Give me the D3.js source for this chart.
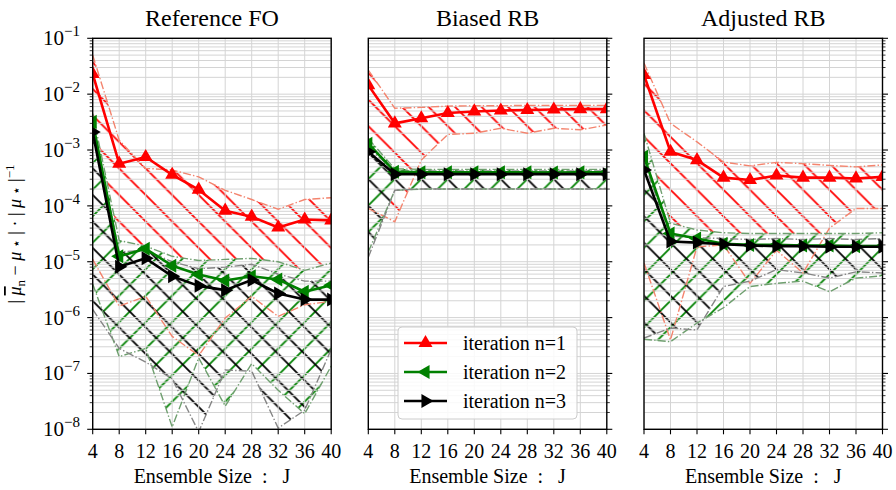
<!DOCTYPE html>
<html lang="en">
<head>
<meta charset="UTF-8">
<title>Ensemble size convergence</title>
<style>
  body { margin: 0; background: #fff; }
  svg, text { font-family: "Liberation Serif", "Times New Roman", serif; fill: #000; }
</style>
</head>
<body>
<svg width="896" height="490" font-family="Liberation Serif, serif"></svg>
<script src="https://d3js.org/d3.v7.min.js"></script>
<script>
// ensemble sizes J
const ensembleSizes = [4, 8, 12, 16, 20, 24, 28, 32, 36, 40];
const panelTitles = ["Reference FO", "Biased RB", "Adjusted RB"];
const legendLabels = ["iteration n=1", "iteration n=2", "iteration n=3"];
const yExponents = [-8, -7, -6, -5, -4, -3, -2, -1];

// Reference FO
const foMean1  = [2.3e-2, 5.7e-4, 7.5e-4, 3.6e-4, 1.95e-4, 8.2e-5, 6.4e-5, 4.1e-5, 5.7e-5, 5.5e-5];
const foUpper1 = [5.0e-2, 1.5e-3, 4.7e-4, 4.4e-4, 3.3e-4, 1.9e-4, 1.3e-4, 8.7e-5, 1.3e-4, 1.4e-4];
const foLower1 = [1.1e-5, 1.6e-6, 2.4e-6, 4.6e-7, 2.1e-7, 9.8e-7, 2.4e-6, 1.05e-6, 1.7e-6, 1.95e-6];
const foMean2  = [3.2e-3, 1.25e-5, 1.7e-5, 8.5e-6, 5.9e-6, 4.6e-6, 5.5e-6, 4.8e-6, 2.9e-6, 3.8e-6];
const foUpper2 = [4.5e-3, 2.4e-5, 1.9e-5, 1.25e-5, 1.05e-5, 1.1e-5, 1.15e-5, 1.0e-5, 7.0e-6, 9.5e-6];
const foLower2 = [4.0e-6, 2.0e-7, 2.8e-7, 1.1e-8, 1.9e-7, 2.6e-8, 1.5e-7, 5.0e-8, 1.9e-8, 1.35e-7];
const foMean3  = [2.1e-3, 8.1e-6, 1.15e-5, 5.5e-6, 3.7e-6, 3.1e-6, 4.7e-6, 2.7e-6, 2.1e-6, 2.1e-6];
const foUpper3 = [2.8e-3, 1.5e-5, 1.6e-5, 1.0e-5, 7.5e-6, 8.0e-6, 9.0e-6, 6.0e-6, 4.5e-6, 4.5e-6];
const foLower3 = [1.4e-6, 2.8e-7, 1.6e-7, 8.0e-8, 9.0e-9, 1.15e-7, 1.1e-7, 1.05e-8, 2.2e-8, 2.7e-7];

// Biased RB
const rbMean1  = [1.45e-2, 3.0e-3, 3.7e-3, 4.6e-3, 4.9e-3, 5.1e-3, 5.2e-3, 5.3e-3, 5.4e-3, 5.4e-3];
const rbUpper1 = [2.7e-2, 5.6e-3, 5.8e-3, 6.1e-3, 6.2e-3, 6.2e-3, 6.3e-3, 6.3e-3, 6.3e-3, 6.3e-3];
const rbLower1 = [9.0e-5, 5.2e-5, 6.6e-4, 1.9e-3, 2.0e-3, 2.45e-3, 2.0e-3, 2.45e-3, 2.3e-3, 2.8e-3];
const rbMean2  = [1.3e-3, 4.1e-4, 4.0e-4, 4.0e-4, 4.0e-4, 4.0e-4, 4.0e-4, 3.95e-4, 4.0e-4, 4.0e-4];
const rbUpper2 = [1.6e-3, 4.6e-4, 4.5e-4, 4.5e-4, 4.5e-4, 4.5e-4, 4.5e-4, 4.5e-4, 4.5e-4, 4.5e-4];
const rbLower2 = [1.5e-5, 1.9e-4, 2.0e-4, 2.0e-4, 2.0e-4, 2.0e-4, 2.0e-4, 2.0e-4, 2.0e-4, 2.05e-4];
const rbMean3  = [9.3e-4, 3.7e-4, 3.7e-4, 3.7e-4, 3.7e-4, 3.7e-4, 3.7e-4, 3.7e-4, 3.7e-4, 3.7e-4];
const rbUpper3 = [1.1e-3, 4.2e-4, 4.2e-4, 4.2e-4, 4.2e-4, 4.2e-4, 4.2e-4, 4.2e-4, 4.2e-4, 4.2e-4];
const rbLower3 = [1.2e-5, 1.9e-4, 2.0e-4, 2.0e-4, 2.0e-4, 2.0e-4, 2.0e-4, 2.0e-4, 2.0e-4, 2.0e-4];

// Adjusted RB
const arMean1  = [2.2e-2, 9.3e-4, 6.6e-4, 3.2e-4, 2.9e-4, 3.5e-4, 3.2e-4, 3.2e-4, 3.1e-4, 3.3e-4];
const arUpper1 = [3.6e-2, 3.0e-3, 1.4e-3, 6.1e-4, 5.2e-4, 6.0e-4, 5.7e-4, 5.3e-4, 5.0e-4, 5.4e-4];
const arLower1 = [9.5e-6, 4.0e-7, 1.85e-5, 2.0e-5, 4.1e-6, 1.6e-5, 6.3e-6, 4.0e-5, 9.0e-5, 9.0e-5];
const arMean2  = [7.6e-4, 3.2e-5, 2.6e-5, 2.1e-5, 2.0e-5, 2.0e-5, 1.95e-5, 1.95e-5, 1.9e-5, 1.9e-5];
const arUpper2 = [2.0e-3, 4.9e-5, 3.7e-5, 3.3e-5, 3.2e-5, 3.2e-5, 3.2e-5, 3.2e-5, 3.2e-5, 3.3e-5];
const arLower2 = [4.1e-7, 3.7e-7, 8.0e-7, 1.5e-6, 3.6e-6, 4.1e-6, 4.5e-6, 2.9e-6, 5.1e-6, 5.6e-6];
const arMean3  = [4.4e-4, 2.3e-5, 2.2e-5, 2.05e-5, 1.95e-5, 1.9e-5, 1.9e-5, 1.85e-5, 1.85e-5, 1.85e-5];
const arUpper3 = [6.0e-4, 2.9e-5, 2.7e-5, 2.6e-5, 2.5e-5, 2.6e-5, 2.5e-5, 2.6e-5, 2.5e-5, 2.6e-5];
const arLower3 = [4.3e-7, 6.5e-7, 6.0e-7, 3.6e-6, 4.5e-6, 7.2e-6, 6.3e-6, 5.1e-6, 6.6e-6, 6.3e-6];

const panelData = [
  [[foLower1, foMean1, foUpper1], [foLower2, foMean2, foUpper2], [foLower3, foMean3, foUpper3]],
  [[rbLower1, rbMean1, rbUpper1], [rbLower2, rbMean2, rbUpper2], [rbLower3, rbMean3, rbUpper3]],
  [[arLower1, arMean1, arUpper1], [arLower2, arMean2, arUpper2], [arLower3, arMean3, arUpper3]]
];

const lineColors = ["#ff0000", "#008000", "#000000"];
const boundColors = ["#f4846e", "#6f9f6f", "#858585"];
const markerRotation = [0, -90, 90];

const svg = d3.select("svg");
const plotTop = 38.3, plotBottom = 429.3, plotWidth = 238.5;
const panelLeft = [92.7, 368.3, 644];

const y = d3.scaleLog().domain([1e-8, 1e-1]).range([plotBottom, plotTop]);

// hatch patterns, anchored to the page like matplotlib does
const defs = svg.append("defs");
const s = 26.5;
function hatch(id, color, dir, face) {
  const p = defs.append("pattern")
    .attr("id", id)
    .attr("patternUnits", "userSpaceOnUse")
    .attr("x", 10.5).attr("y", 6.8)
    .attr("width", s).attr("height", s);
  if (face) p.append("rect").attr("width", s).attr("height", s).attr("fill", face);
  const d = dir === "back"
    ? `M0,0L${s},${s}M-2,${s - 2}L2,${s + 2}M${s - 2},-2L${s + 2},2`
    : `M0,${s}L${s},0M-2,2L2,-2M${s - 2},${s + 2}L${s + 2},${s - 2}`;
  p.append("path").attr("d", d).attr("stroke", color).attr("stroke-width", 1.8).attr("fill", "none");
}
hatch("h-red", "#ff0000", "back", "#fff");
hatch("h-green", "#008000", "fwd", "#fff");
hatch("h-black", "#000000", "back", null);
const hatchIds = ["h-red", "h-green", "h-black"];

const minorTicks = [];
yExponents.forEach(e => { if (e < -1) for (let k = 2; k <= 9; k++) minorTicks.push(k * Math.pow(10, e)); });
const majorTicks = yExponents.map(e => Math.pow(10, e));

panelData.forEach((series, pi) => {
  const left = panelLeft[pi];
  const x = d3.scaleLinear().domain([4, 40]).range([left, left + plotWidth]);
  const g = svg.append("g");

  defs.append("clipPath").attr("id", "clip" + pi)
    .append("rect").attr("x", left).attr("y", plotTop)
    .attr("width", plotWidth).attr("height", plotBottom - plotTop);
  const inner = g.append("g").attr("clip-path", `url(#clip${pi})`);

  // hatched bands
  series.forEach((sr, si) => {
    const area = d3.area()
      .x((d, i) => x(ensembleSizes[i]))
      .y0((d, i) => y(sr[0][i]))
      .y1((d, i) => y(sr[2][i]));
    inner.append("path").datum(ensembleSizes).attr("d", area)
      .attr("fill", `url(#${hatchIds[si]})`).attr("stroke", "none");
  });

  // grid
  inner.selectAll(".gy").data(minorTicks.concat(majorTicks)).join("line")
    .attr("x1", left).attr("x2", left + plotWidth)
    .attr("y1", d => y(d)).attr("y2", d => y(d))
    .attr("stroke", "#d4d4d4").attr("stroke-width", 1);
  inner.selectAll(".gx").data(ensembleSizes).join("line")
    .attr("x1", d => x(d)).attr("x2", d => x(d))
    .attr("y1", plotTop).attr("y2", plotBottom)
    .attr("stroke", "#d4d4d4").attr("stroke-width", 1);

  // bounds
  series.forEach((sr, si) => {
    [sr[0], sr[2]].forEach(b => {
      const line = d3.line().x((d, i) => x(ensembleSizes[i])).y(d => y(d));
      inner.append("path").datum(b).attr("d", line)
        .attr("fill", "none").attr("stroke", boundColors[si])
        .attr("stroke-width", 1.4).attr("stroke-dasharray", "8,2.2,1.4,2.2");
    });
  });

  // mean lines + markers
  series.forEach((sr, si) => {
    const line = d3.line().x((d, i) => x(ensembleSizes[i])).y(d => y(d));
    inner.append("path").datum(sr[1]).attr("d", line)
      .attr("fill", "none").attr("stroke", lineColors[si]).attr("stroke-width", 2.6)
      .attr("stroke-linejoin", "round");
    inner.selectAll(null).data(sr[1]).join("path")
      .attr("d", d3.symbol(d3.symbolTriangle, 85))
      .attr("transform", (d, i) => `translate(${x(ensembleSizes[i])},${y(d)}) rotate(${markerRotation[si]})`)
      .attr("fill", lineColors[si]);
  });

  // spines
  g.append("rect").attr("x", left).attr("y", plotTop)
    .attr("width", plotWidth).attr("height", plotBottom - plotTop)
    .attr("fill", "none").attr("stroke", "#000").attr("stroke-width", 1.4);

  // x ticks
  const xa = g.append("g");
  ensembleSizes.forEach(v => {
    xa.append("line").attr("x1", x(v)).attr("x2", x(v))
      .attr("y1", plotBottom).attr("y2", plotBottom + 5).attr("stroke", "#000").attr("stroke-width", 1.1);
    xa.append("text").attr("x", x(v)).attr("y", 458).attr("text-anchor", "middle")
      .attr("font-size", 20).text(v);
  });
  g.append("text").attr("x", left + plotWidth / 2).attr("y", 483).attr("text-anchor", "middle")
    .attr("font-size", 20).attr("xml:space", "preserve").text("Ensemble Size  :   J");

  // y ticks
  const tx = pi === 0 ? left : left + plotWidth;
  const dir = pi === 0 ? -1 : 1;
  majorTicks.forEach(v => {
    g.append("line").attr("x1", tx).attr("x2", tx + dir * 5.5)
      .attr("y1", y(v)).attr("y2", y(v)).attr("stroke", "#000").attr("stroke-width", 1.1);
  });
  minorTicks.forEach(v => {
    g.append("line").attr("x1", tx).attr("x2", tx + dir * 3)
      .attr("y1", y(v)).attr("y2", y(v)).attr("stroke", "#000").attr("stroke-width", 0.8);
  });
  if (pi === 0) {
    yExponents.forEach(e => {
      const t = g.append("text").attr("y", y(Math.pow(10, e)) + 7).attr("font-size", 21);
      t.append("tspan").attr("x", 43).text("10");
      t.append("tspan").attr("dy", -9).attr("font-size", 15).text("\u2212" + Math.abs(e));
    });
  }

  // title
  svg.append("text").attr("x", left + plotWidth / 2).attr("y", 26).attr("text-anchor", "middle")
    .attr("font-size", 24).text(panelTitles[pi]);
});

// y axis label
const yl = svg.append("text").attr("transform", "translate(21,234) rotate(-90)")
  .attr("text-anchor", "middle").attr("font-size", 18).attr("xml:space", "preserve");
yl.append("tspan").text("| ");
yl.append("tspan").attr("font-style", "italic").style("text-decoration", "overline").text("\u03bc");
yl.append("tspan").attr("dy", 4).attr("font-size", 13).text("n");
yl.append("tspan").attr("dy", -4).text(" \u2212 ");
yl.append("tspan").attr("font-style", "italic").text("\u03bc");
yl.append("tspan").attr("font-size", 14).text(" \u22c6");
yl.append("tspan").text(" | \u00b7 | ");
yl.append("tspan").attr("font-style", "italic").text("\u03bc");
yl.append("tspan").attr("font-size", 14).text(" \u22c6");
yl.append("tspan").text(" |");
yl.append("tspan").attr("dy", -7).attr("font-size", 13).text("\u22121");

// legend
const lg = svg.append("g").attr("transform", "translate(398,327)");
lg.append("rect").attr("width", 179).attr("height", 92).attr("rx", 4)
  .attr("fill", "#fff").attr("fill-opacity", 0.85).attr("stroke", "#cccccc");
legendLabels.forEach((lab, i) => {
  const yy = 16 + i * 29;
  lg.append("line").attr("x1", 6).attr("x2", 49).attr("y1", yy).attr("y2", yy)
    .attr("stroke", lineColors[i]).attr("stroke-width", 2.6);
  lg.append("path").attr("d", d3.symbol(d3.symbolTriangle, 85))
    .attr("transform", `translate(27.5,${yy}) rotate(${markerRotation[i]})`).attr("fill", lineColors[i]);
  lg.append("text").attr("x", 65).attr("y", yy + 6.5).attr("font-size", 20).text(lab);
});
</script>
</body>
</html>
